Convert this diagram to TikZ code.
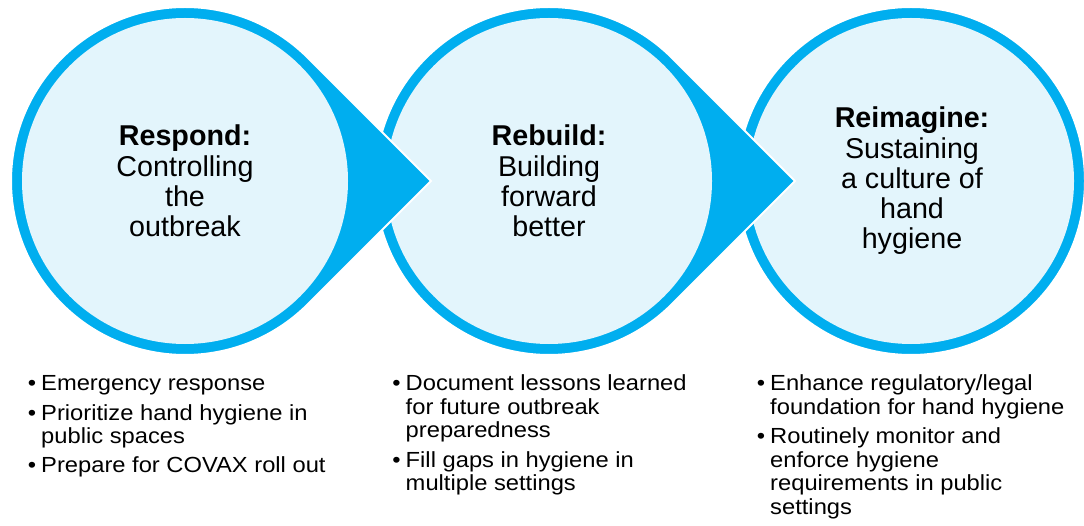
\documentclass[tikz,border=0pt]{standalone}
\usepackage{fontspec}
\setmainfont{Liberation Sans}
\newfontfamily\listfont[FakeStretch=1.085]{Liberation Sans}
\usepackage{tikz}
\usepackage{xcolor}
\definecolor{ColRing}{RGB}{0,174,239}
\definecolor{ColDisc}{RGB}{227,245,252}
\tikzstyle{StageShape}=[fill=ColRing,draw=white,line width=1.5pt]
\tikzstyle{StageDisc}=[fill=ColDisc]
\tikzstyle{StageText}=[align=center,inner sep=0pt,font=\fontsize{21.5}{22.7}\selectfont]
\tikzstyle{BulletList}=[anchor=base west,inner sep=0pt,
font=\listfont\fontsize{16.4}{17.7}\selectfont]
\newcommand{\BulletItem}[1]{\par\hangindent=10.1pt\hangafter=1\noindent
  \makebox[10.1pt][l]{\textbullet}#1}
\newcommand{\BulletBox}[1]{\parbox[t]{260pt}{\raggedright\parskip=4.3pt #1}}

\begin{document}
\begin{tikzpicture}[x=0.75pt,y=0.75pt]
    \useasboundingbox (0,0) rectangle (1084,525);
        \coordinate (respondC) at (185,344);
        \coordinate (rebuildC) at (549,344);
        \coordinate (reimagineC) at (911,344);
        % last stage: plain ring
        \filldraw[StageShape] (reimagineC) circle[radius=174];
        \fill[StageDisc] (reimagineC) circle[radius=163];
        % rings with a point, drawn back to front
        \filldraw[StageShape] (rebuildC) ++(45:174)
            arc[start angle=45,end angle=315,radius=174] -- ++(123,123) -- cycle;
        \fill[StageDisc] (rebuildC) circle[radius=163];
        \filldraw[StageShape] (respondC) ++(45:174)
            arc[start angle=45,end angle=315,radius=174] -- ++(123,123) -- cycle;
        \fill[StageDisc] (respondC) circle[radius=163];
        \node[StageText](respond)at(185,344){\textbf{Respond:}\\Controlling\\the\\outbreak};
        \node[StageText](rebuild)at(549,344){\textbf{Rebuild:}\\Building\\forward\\better};
        \node[StageText](reimagine)at(912,344){\textbf{Reimagine:}\\Sustaining\\a culture of\\hand\\hygiene};
        \node[BulletList](respondList)at(27.5,134.3){\BulletBox{%
            \BulletItem{Emergency response}
            \BulletItem{Prioritize hand hygiene in\newline public spaces}
            \BulletItem{Prepare for COVAX roll out}}};
        \node[BulletList](rebuildList)at(392,134.3){\BulletBox{%
            \BulletItem{Document lessons learned\newline for future outbreak\newline preparedness}
            \BulletItem{Fill gaps in hygiene in\newline multiple settings}}};
        \node[BulletList](reimagineList)at(756.5,134.3){\BulletBox{%
            \BulletItem{Enhance regulatory/legal\newline foundation for hand hygiene}
            \BulletItem{Routinely monitor and\newline enforce hygiene\newline requirements in public\newline settings}}};
    \end{tikzpicture}
\end{document}
